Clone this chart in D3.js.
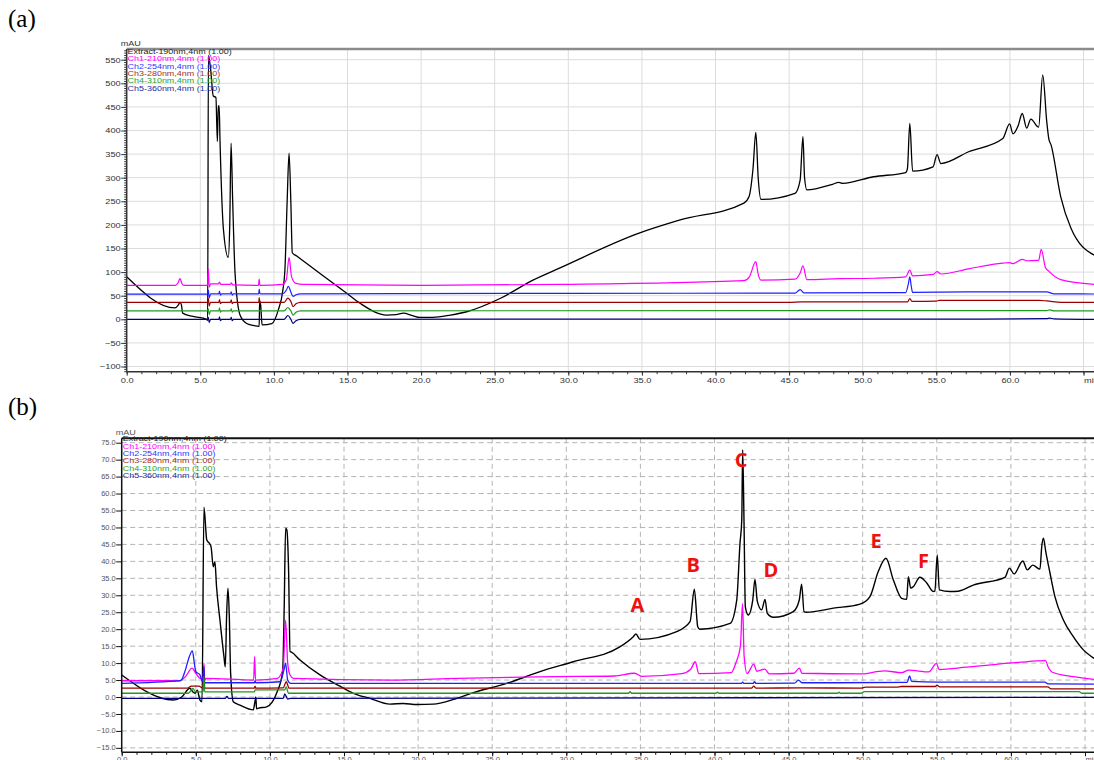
<!DOCTYPE html>
<html>
<head>
<meta charset="utf-8">
<script src="https://cdn.jsdelivr.net/npm/d3@7"></script>
<style>
	body { margin: 0; background: #fff; }
	svg { display: block; }
	text { font-family: "Liberation Sans", Arial, sans-serif; }
</style>
</head>
<body>
<svg id="main-svg" width="1094" height="760"></svg>
<script>
// ---- data: [retention time (min), signal] ----
const seriesNames = ['Extract-190nm,4nm (1.00)', 'Ch1-210nm,4nm (1.00)', 'Ch2-254nm,4nm (1.00)',
	'Ch3-280nm,4nm (1.00)', 'Ch4-310nm,4nm (1.00)', 'Ch5-360nm,4nm (1.00)'];
const lineColors = ['#000000', '#ff00ff', '#1f1fff', '#990000', '#1c9a1c', '#000080'];
const legendColors = ['#222222', '#ff00ff', '#3333ff', '#a03030', '#2ca02c', '#2a2a9a'];

const timeTicks = d3.range(0, 66, 5);
const timeMinorTicks = d3.range(0, 66, 1);
const mauTicksA = d3.range(-100, 551, 50);
const mauMinorA = d3.range(-110, 571, 5);
const mauTicksB = d3.range(-15, 76, 5);

// panel (a), mAU
const extractA = [[0, 90], [3.28, 24], [3.5, 30], [3.62, 36], [3.72, 30], [3.8, 13], [4.5, 6], [5.43, 0], [5.5, -3],
	[5.55, 559], [5.7, 530], [5.88, 473], [6.06, 470], [6.16, 377], [6.22, 452], [6.28, 452], [6.34, 377],
	[6.57, 191], [6.9, 131], [7.0, 200], [7.09, 373], [7.2, 250], [7.36, 98], [7.7, 9], [8.15, -9], [8.6, -13],
	[9.0, -15], [9.03, 39], [9.1, 30], [9.2, -12], [9.86, -9], [10.3, 20], [10.6, 60], [10.75, 106], [10.9, 250],
	[11.03, 352], [11.15, 250], [11.25, 141], [11.55, 134], [14.95, 55], [15.85, 34], [17.66, 9], [18.3, 10],
	[18.8, 13], [19.4, 8], [19.93, 4], [20.8, 4], [22, 9], [23.1, 16], [25.36, 44], [27.6, 83], [29.44, 109],
	[34.76, 182], [37.54, 210], [41.93, 246], [42.28, 260], [42.55, 320], [42.74, 396], [42.9, 300], [43.09, 254],
	[45.4, 267], [45.75, 295], [45.94, 387], [46.05, 300], [46.21, 274], [47.95, 286], [48.37, 290], [48.64, 288],
	[50.73, 302], [52.92, 311], [53.04, 320], [53.2, 415], [53.39, 314], [54.78, 323], [55.05, 349], [55.31, 330],
	[57.2, 355], [59.52, 383], [59.98, 414], [60.21, 393], [60.56, 410], [60.84, 436], [61.14, 405], [61.42, 424],
	[61.95, 407], [62.23, 518], [62.5, 420], [62.64, 383], [62.8, 369], [63.45, 260], [64.15, 193], [65.72, 136]];
const ch1A = [[0, 72], [3.3, 72], [3.5, 78], [3.62, 86], [3.75, 76], [3.9, 72], [5.5, 72], [5.55, 107], [5.6, 68],
	[5.7, 75], [6.25, 75], [6.3, 79], [6.4, 74], [7.05, 74], [7.1, 77], [7.2, 73], [8.95, 72], [9.0, 85], [9.05, 72],
	[10.6, 74], [10.85, 85], [11.03, 131], [11.2, 90], [11.5, 76], [12, 74], [20, 72], [29.44, 74], [41.93, 82],
	[42.3, 90], [42.74, 122], [42.9, 95], [43.09, 83], [45.4, 85], [45.75, 98], [45.94, 113], [46.21, 84],
	[48.37, 86], [50.73, 87], [52.92, 90], [53.2, 104], [53.39, 92], [54.78, 95], [55.05, 101], [55.31, 96],
	[57.2, 107], [59.52, 119], [59.98, 120], [60.2, 118], [60.84, 127], [61.14, 124], [61.95, 125], [62.13, 148],
	[62.41, 110], [62.64, 102], [63.45, 84], [65.72, 74]];
const ch2A = [[0, 53.5], [5.5, 53.5], [5.55, 62], [5.6, 45], [5.7, 54], [6.27, 54], [6.3, 60], [6.37, 51], [6.45, 54],
	[7.05, 54], [7.1, 58], [7.17, 51], [7.25, 54], [8.97, 54], [9.0, 64], [9.05, 55], [9.1, 54], [10.6, 54],
	[10.85, 62], [10.98, 70], [11.15, 58], [11.3, 48.5], [11.5, 52], [11.8, 54], [30, 55], [45.4, 55.5],
	[45.75, 63], [46.0, 56], [52.92, 56.5], [53.1, 75], [53.2, 90], [53.3, 70], [53.39, 57], [57, 58], [62.5, 58],
	[63, 54], [65.72, 53.6]];
const ch3A = [[0, 36], [5.5, 36], [5.55, 44], [5.6, 28], [5.7, 36], [6.27, 36], [6.3, 42], [6.37, 33], [6.45, 36],
	[7.05, 36], [7.1, 41], [7.17, 33], [7.25, 36], [8.97, 36], [9.0, 46], [9.05, 36], [10.7, 36], [10.95, 45],
	[11.15, 38], [11.3, 27], [11.5, 33], [11.8, 36], [45, 36], [45.8, 37], [53.05, 37], [53.2, 44], [53.35, 38],
	[55, 38.5], [55.2, 40], [56, 40], [62, 40], [62.5, 39], [63.5, 36], [65.72, 36]];
const ch4A = [[0, 18], [5.5, 18], [5.55, 22], [5.6, 10], [5.7, 18], [6.27, 18], [6.3, 24], [6.37, 15], [6.45, 18],
	[7.05, 18], [7.1, 22], [7.17, 15], [7.25, 18], [10.7, 18], [10.95, 25], [11.15, 18], [11.3, 9], [11.5, 15],
	[11.8, 18], [62.5, 18.5], [62.7, 20], [63, 18], [65.72, 18]];
const ch5A = [[0, 0], [5.5, 0], [5.55, 4], [5.6, -7], [5.7, 0], [6.27, 0], [6.3, 5], [6.37, -3], [6.45, 0],
	[7.05, 0], [7.1, 4], [7.17, -3], [7.25, 0], [10.7, 0], [10.95, 8], [11.15, 0], [11.3, -8.5], [11.5, -3],
	[11.8, 0], [58, 0.5], [62.5, 1.5], [62.7, 2.5], [63, 1], [65.72, 0]];

// panel (b), in the units of its own tick labels
const extractB = [[0, 6.5], [3.48, -0.9], [4.05, 0], [4.6, 2.6], [4.8, 1.5], [4.95, 1.1], [5.1, 2.0], [5.2, 0.5],
	[5.28, -0.9], [5.42, -1.4], [5.55, 56], [5.74, 46.3], [5.92, 45.3], [6.03, 44.3], [6.18, 38.4], [6.29, 39.9],
	[6.4, 32.5], [6.63, 22.7], [6.9, 11.9], [6.99, 8.9], [7.08, 24.2], [7.17, 32.1], [7.26, 23.9], [7.35, 7],
	[7.53, -1.4], [7.98, -2.4], [8.88, -3.8], [8.99, -1.4], [9.05, 0], [9.1, -3.5], [9.23, -3.3], [9.78, -2.9],
	[10.45, 1.1], [10.86, 7.5], [10.97, 27.6], [11.06, 49.8], [11.14, 49.3], [11.26, 37.5], [11.36, 13.4],
	[11.46, 13.2], [12.03, 10.9], [13.38, 6.5], [14.73, 3.2], [15.63, 1.1], [16.75, -0.4], [18.1, -2.1], [19.0, -1.9],
	[19.9, -2.2], [21.03, -2.1], [22.4, -0.7], [23.73, 1.3], [25.98, 4], [28.23, 7.5], [30.47, 10.4], [33.58, 14.7],
	[34.52, 17.8], [34.7, 18.6], [34.97, 17], [37.45, 19.3], [38.35, 22.2], [38.64, 31.8], [38.87, 20.7], [39.0, 20],
	[41.05, 21.7], [41.5, 28.6], [41.72, 45.3], [41.84, 52.2], [41.9, 72.9], [41.99, 52.2], [42.08, 26.6],
	[42.28, 24.2], [42.58, 28.6], [42.73, 34.7], [42.89, 28.2], [43.18, 25.7], [43.41, 28.8], [43.56, 24.7],
	[43.97, 23.5], [45.32, 25.2], [45.72, 28.6], [45.88, 33.3], [46.04, 25.2], [46.2, 25], [48.02, 26.2],
	[49.82, 27.4], [50.49, 29.6], [51.05, 37], [51.57, 40.9], [52.07, 34.5], [52.63, 29.1], [52.97, 28.8],
	[53.08, 35.5], [53.24, 32.1], [53.41, 32.5], [53.86, 35.3], [54.31, 33.7], [54.76, 31.1], [54.87, 31.2],
	[55.03, 41.9], [55.17, 31.6], [55.88, 31.1], [56.45, 31.2], [57.46, 33], [59.6, 35.3], [59.9, 38], [60.21, 36.3],
	[60.8, 40.1], [61.11, 37.5], [61.47, 38.9], [61.96, 37.7], [62.08, 44.3], [62.19, 46.8], [62.37, 42.4],
	[62.64, 36.5], [62.97, 29.6], [63.54, 22.7], [64.21, 17.8], [64.89, 13.9], [65.61, 11.4]];
const ch1B = [[0, 4.8], [3.9, 4.8], [4.3, 6], [4.75, 8.5], [5.0, 7], [5.3, 5.5], [5.5, 5.5], [5.55, 10], [5.6, 5],
	[5.7, 5.5], [8.9, 5], [8.97, 11.9], [9.03, 5], [10.5, 5.5], [10.9, 8.5], [11.06, 22.7], [11.2, 10], [11.36, 6.5],
	[11.6, 5.5], [18.1, 5.0], [22.65, 5.5], [29.17, 6.0], [33.25, 6.2], [34.6, 7.0], [35.1, 6.1], [37.8, 6.9],
	[38.4, 8.2], [38.7, 10.4], [38.94, 6.9], [41.13, 7.2], [41.43, 9.9], [41.75, 15], [41.89, 27.5], [42.0, 12],
	[42.2, 6.9], [42.65, 9.7], [42.85, 7.6], [43.4, 8.2], [43.7, 6.8], [45.36, 7], [45.73, 8.5], [45.9, 7],
	[49.92, 6.8], [51.44, 7.7], [52.65, 7.2], [53.1, 7.9], [54.46, 7.4], [54.98, 9.9], [55.15, 8.1], [57, 8.8],
	[60.52, 10.2], [62.34, 10.7], [62.5, 9.0], [62.8, 7.3], [64.2, 6], [65.6, 5.2]];
const ch2B = [[0, 4.0], [3.97, 4.8], [4.3, 8], [4.56, 11.9], [4.77, 13.6], [4.9, 10], [5.0, 7.5], [5.28, 6.5],
	[5.45, 4.5], [5.55, 9], [5.6, 4.2], [8.95, 4.2], [9.0, 4.8], [9.05, 4.2], [10.7, 4.5], [10.95, 8], [11.06, 9.9],
	[11.2, 5], [11.4, 4.0], [41.8, 4.0], [41.9, 4.4], [42.0, 4.0], [42.6, 4.0], [42.7, 4.5], [42.8, 4.0],
	[45.4, 4.1], [45.67, 5.0], [45.9, 4.2], [48.05, 4.2], [53.0, 4.3], [53.16, 6.2], [53.3, 4.6], [55, 4.4],
	[62.3, 4.4], [62.5, 3.9], [65.6, 3.8]];
const ch3B = [[0, 2.6], [4.4, 2.6], [4.7, 3.2], [5.2, 3.2], [5.5, 2.6], [5.55, 6.5], [5.6, 2.6], [8.95, 2.6],
	[9.0, 3.2], [9.05, 2.6], [10.9, 2.7], [11.1, 4.5], [11.3, 2.6], [42.5, 2.6], [42.65, 3.2], [42.8, 2.6],
	[45.8, 2.7], [49.9, 2.6], [50.2, 2.9], [52.3, 2.9], [52.6, 3.1], [54.9, 3.1], [55.0, 3.5], [55.2, 3.0],
	[62.5, 3.0], [62.7, 2.4], [65.6, 2.4]];
const ch4B = [[0, 1.1], [4.5, 1.1], [4.8, 2.5], [5.0, 1.5], [5.5, 1.5], [5.55, 6], [5.6, 1.5], [8.95, 1.5], [9.0, 2.1],
	[11.0, 2.1], [11.1, 3.0], [11.25, 1.1], [34.2, 1.1], [34.3, 1.6], [34.4, 1.1], [40.1, 1.1], [40.2, 1.4],
	[40.3, 1.1], [48.3, 1.1], [48.4, 1.4], [48.5, 1.1], [49.9, 1.1], [50.1, 1.6], [64.6, 1.6], [64.8, 1.1], [65.6, 1.1]];
const ch5B = [[0, -0.4], [7.0, -0.4], [7.1, 0.2], [7.2, -0.4], [10.9, -0.4], [11.0, 0.9], [11.2, -0.6], [11.4, -0.4],
	[65.6, -0.1]];

// peak letters in panel (b): time and signal level of the letter baseline
const peakLetters = ['A', 'B', 'C', 'D', 'E', 'F'];
const peakTimes = [34.8, 38.56, 41.79, 43.81, 50.9, 54.1];
const peakLevels = [25.1, 36.9, 67.7, 35.4, 43.9, 38.1];

// ---- drawing ----
var svg = d3.select('#main-svg');

const panels = [
	{
		id: 'a', traces: [extractA, ch1A, ch2A, ch3A, ch4A, ch5A],
		x: d3.scaleLinear().domain([0, 65]).range([126.7, 1083.5]),
		y: d3.scaleLinear().domain([0, 550]).range([319.3, 59.7]),
		left: 126.7, right: 1094, top: 49, bottom: 371.7,
		yTicks: mauTicksA, yMinor: mauMinorA, yFmt: d3.format('d'),
		grid: '#dcdcdc', dash: null, axis: '#333', frame: '#8c8c8c', frameW: 2.5,
		font: 7.6, stretch: 1.22, label: '#333', lw: 1.3,
		legendX: 127.5, legendY: 53.8, tag: '(a)', tagY: 27
	},
	{
		id: 'b', traces: [extractB, ch1B, ch2B, ch3B, ch4B, ch5B],
		x: d3.scaleLinear().domain([0, 65]).range([121.7, 1085]),
		y: d3.scaleLinear().domain([0, 75]).range([697, 442.7]),
		left: 121.7, right: 1094, top: 438.3, bottom: 752.3,
		yTicks: mauTicksB, yMinor: [], yFmt: d3.format('.1f'),
		grid: '#b4b4b4', dash: '5,3.5', axis: '#111', frame: '#111', frameW: 2,
		font: 6.5, stretch: 1.15, label: '#555', lw: 1.4,
		legendX: 122.7, legendY: 441.4, tag: '(b)', tagY: 415
	}
];

panels.forEach(drawPanel);

function drawPanel(p) {
	const g = svg.append('g').attr('id', 'panel-' + p.id);

	svg.append('clipPath').attr('id', 'clip-' + p.id)
		.append('rect')
		.attr('x', p.left).attr('y', p.top)
		.attr('width', p.right - p.left).attr('height', p.bottom - p.top);

	// grid
	const grid = g.append('g').attr('stroke', p.grid).attr('stroke-width', 1)
		.attr('stroke-dasharray', p.dash);
	grid.selectAll('.vg')
		.data(timeTicks.filter(d => d > 0))
		.enter().append('line')
		.attr('x1', d => p.x(d)).attr('x2', d => p.x(d))
		.attr('y1', p.top).attr('y2', p.bottom);
	grid.selectAll('.hg')
		.data(p.yTicks)
		.enter().append('line')
		.attr('x1', p.left).attr('x2', p.right)
		.attr('y1', d => p.y(d)).attr('y2', d => p.y(d));

	// traces, extract first then channels on top
	const line = d3.line()
		.x(d => p.x(d[0]))
		.y(d => p.y(d[1]))
		.curve(d3.curveMonotoneX);
	g.append('g')
		.attr('clip-path', 'url(#clip-' + p.id + ')')
		.selectAll('path')
		.data(p.traces)
		.enter().append('path')
		.attr('d', line)
		.attr('fill', 'none')
		.attr('stroke', (d, i) => lineColors[i])
		.attr('stroke-width', (d, i) => i === 0 ? p.lw : p.lw - 0.1)
		.attr('stroke-linejoin', 'round');

	// frame: top border
	g.append('line')
		.attr('x1', p.left).attr('x2', p.right).attr('y1', p.top).attr('y2', p.top)
		.attr('stroke', p.frame).attr('stroke-width', p.frameW);

	// y axis
	const yAxis = g.append('g')
		.attr('transform', `translate(${p.left},0)`)
		.call(d3.axisLeft(p.y).tickValues(p.yTicks).tickFormat(p.yFmt).tickSize(5.5).tickPadding(0));
	if (p.yMinor.length) {
		g.append('g')
			.attr('transform', `translate(${p.left},0)`)
			.call(d3.axisLeft(p.y).tickValues(p.yMinor).tickFormat('').tickSize(2.5))
			.call(a => a.select('.domain').remove())
			.selectAll('line').attr('stroke', p.axis);
	}
	styleAxis(yAxis, p);
	yAxis.selectAll('text')
		.attr('x', -6 / p.stretch)
		.attr('transform', `scale(${p.stretch},1)`);

	// x axis
	const xAxis = g.append('g')
		.attr('transform', `translate(0,${p.bottom})`)
		.call(d3.axisBottom(p.x).tickValues(timeTicks)
			.tickFormat(d => d === 65 ? 'min' : d3.format('.1f')(d))
			.tickSize(4));
	g.append('g')
		.attr('transform', `translate(0,${p.bottom})`)
		.call(d3.axisBottom(p.x).tickValues(timeMinorTicks).tickFormat('').tickSize(2.5))
		.call(a => a.select('.domain').remove())
		.selectAll('line').attr('stroke', p.axis);
	styleAxis(xAxis, p);
	xAxis.selectAll('text')
		.attr('y', p.id === 'a' ? 11.5 : 9.7)
		.attr('dy', 0)
		.attr('transform', `scale(${p.stretch},1)`)
		.attr('text-anchor', d => d === 65 ? 'start' : 'middle');

	g.append('line')
		.attr('x1', p.left).attr('x2', p.left).attr('y1', p.top).attr('y2', p.bottom)
		.attr('stroke', p.axis).attr('stroke-width', 1.5);
	g.append('line')
		.attr('x1', p.left).attr('x2', p.right).attr('y1', p.bottom).attr('y2', p.bottom)
		.attr('stroke', p.axis).attr('stroke-width', 1.5);

	// unit label
	g.append('text')
		.attr('transform', `translate(${p.left - 6},${p.top - 3.5}) scale(1.3,1)`)
		.attr('font-size', 7)
		.attr('fill', p.label)
		.text('mAU');

	// legend
	g.append('g')
		.selectAll('text')
		.data(seriesNames)
		.enter().append('text')
		.attr('transform', (d, i) => `translate(${p.legendX},${p.legendY + i * 7.35}) scale(1.38,1)`)
		.attr('font-size', 6.5)
		.attr('fill', (d, i) => legendColors[i])
		.text(d => d);

	// panel tag
	svg.append('text')
		.attr('x', 8).attr('y', p.tagY)
		.style('font-family', '"Liberation Serif", "Times New Roman", serif')
		.attr('font-size', 25)
		.text(p.tag);

	if (p.id === 'b') {
		g.append('g')
			.selectAll('text')
			.data(peakLetters)
			.enter().append('text')
			.attr('x', (d, i) => p.x(peakTimes[i]))
			.attr('y', (d, i) => p.y(peakLevels[i]))
			.attr('text-anchor', 'middle')
			.style('font-family', '"Open Sans", "DejaVu Sans", sans-serif')
			.attr('font-weight', 'bold')
			.attr('font-size', 20)
			.attr('fill', '#ee1111')
			.text(d => d);
	}
}

function styleAxis(a, p) {
	a.select('.domain').remove();
	a.selectAll('line').attr('stroke', p.axis);
	a.selectAll('text')
		.attr('fill', p.label)
		.attr('font-size', p.font)
		.style('font-family', '"Liberation Sans", Arial, sans-serif');
}
</script>
</body>
</html>
